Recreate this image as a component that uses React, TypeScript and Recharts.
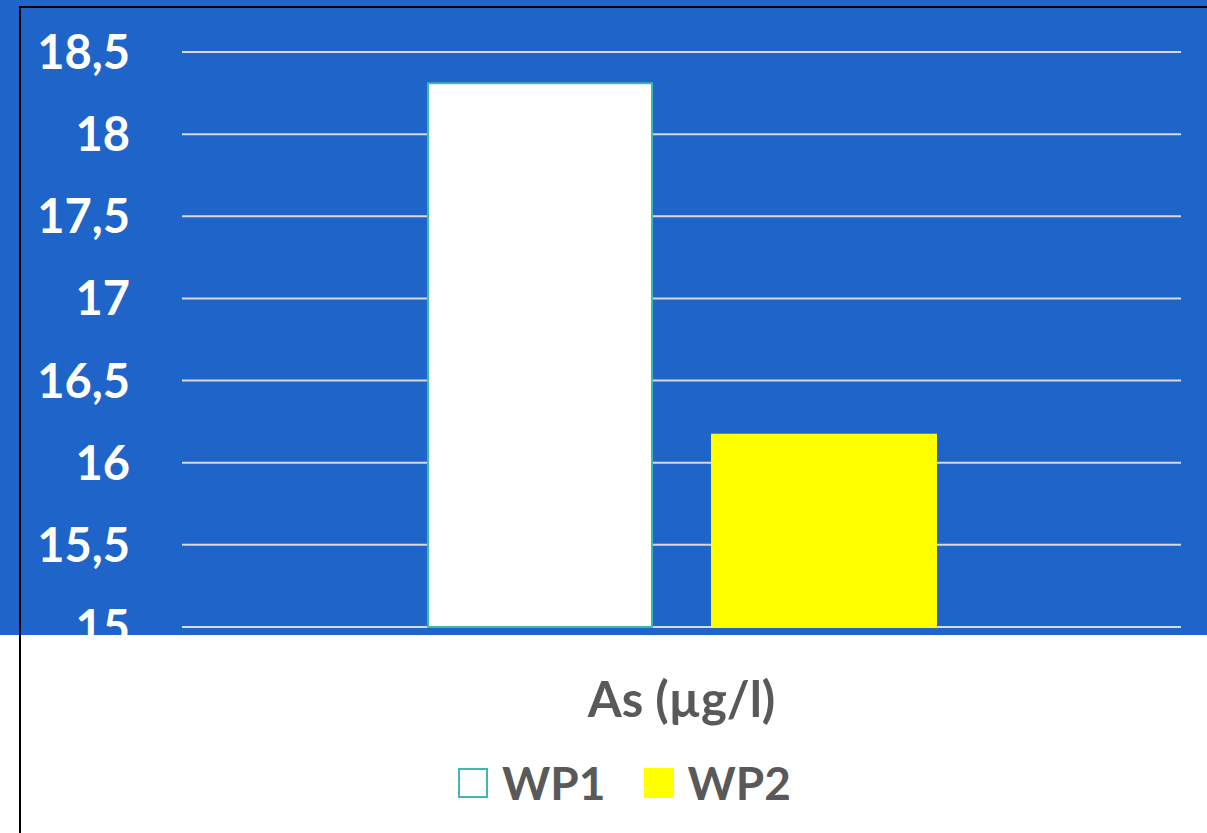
import React from 'react';
import { BarChart, Bar, XAxis, YAxis, CartesianGrid } from 'recharts';

const categories = ['As (µg/l)'];
const wp1Values = [18.31];
const wp2Values = [16.17];
const seriesNames = ['WP1', 'WP2'];
const yTicks = [15, 15.5, 16, 16.5, 17, 17.5, 18, 18.5];

const COLORS: Record<string, { fill: string; stroke: string }> = {
  WP1: { fill: '#ffffff', stroke: '#3fb7b3' },
  WP2: { fill: '#ffff00', stroke: '#ffff00' },
};

const data = categories.map((name, i) => ({ name, WP1: wp1Values[i], WP2: wp2Values[i] }));

const W = 1207;
const H = 833;
const BLUE_BOTTOM = 635;
const FONT = 'Lato, "Open Sans", sans-serif';

function YTick({ y, payload }: any) {
  // clipped to the blue panel, like the original where "15" is cut off
  return (
    <svg x={0} y={0} width={182} height={BLUE_BOTTOM} overflow="hidden">
      <text
        x={130}
        y={y}
        dy={17}
        textAnchor="end"
        fill="#ffffff"
        fontFamily={FONT}
        fontWeight={700}
        fontSize={47}
      >
        {String(payload.value).replace('.', ',')}
      </text>
    </svg>
  );
}

function XTick({ x, payload }: any) {
  return (
    <text x={x} y={717} textAnchor="middle" fill="#595959" fontFamily={FONT} fontWeight={700} fontSize={49}>
      {payload.value}
    </text>
  );
}

export default function App() {
  return (
    <div style={{ position: 'absolute', left: 0, top: 0, width: W, height: H, background: '#ffffff', overflow: 'hidden' }}>
      <div style={{ position: 'absolute', left: 0, top: 0, width: W, height: BLUE_BOTTOM, background: '#1f64c8' }} />
      <div
        style={{
          position: 'absolute',
          left: 19,
          top: 6,
          width: W + 10,
          height: H + 10,
          borderTop: '2px solid #000',
          borderLeft: '2px solid #000',
        }}
      />
      <div style={{ position: 'absolute', left: 0, top: 0 }}>
        <BarChart width={W} height={H} data={data} margin={{ top: 52, right: 26, left: 0, bottom: 106 }} barSize={224} barGap={60}>
          <CartesianGrid vertical={false} stroke="#d9d9d9" strokeWidth={2} />
          <XAxis dataKey="name" axisLine={false} tickLine={false} height={100} tick={<XTick />} />
          <YAxis
            domain={[15, 18.5]}
            ticks={yTicks}
            axisLine={false}
            tickLine={false}
            width={182}
            interval={0}
            tick={<YTick />}
          />
          {seriesNames.map((s) => (
            <Bar
              key={s}
              dataKey={s}
              fill={COLORS[s].fill}
              stroke={COLORS[s].stroke}
              strokeWidth={2}
              isAnimationActive={false}
            />
          ))}
        </BarChart>
      </div>
      <div
        style={{
          position: 'absolute',
          left: 458,
          top: 757,
          display: 'flex',
          alignItems: 'center',
          fontFamily: FONT,
          fontWeight: 700,
          fontSize: 46,
          color: '#595959',
          lineHeight: '52px',
        }}
      >
        {seriesNames.map((s, i) => (
          <div key={s} style={{ display: 'flex', alignItems: 'center', marginLeft: i === 0 ? 0 : 38 }}>
            <span
              style={{
                display: 'inline-block',
                width: 26,
                height: 26,
                background: COLORS[s].fill,
                border: `2px solid ${COLORS[s].stroke}`,
                marginRight: 14,
              }}
            />
            <span>{s}</span>
          </div>
        ))}
      </div>
    </div>
  );
}
